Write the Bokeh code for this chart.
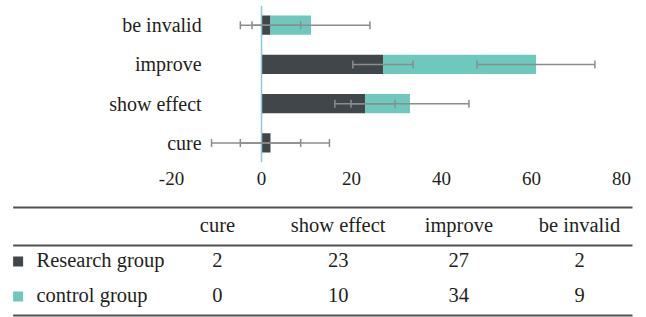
from bokeh.plotting import figure
from bokeh.models import ColumnDataSource, Whisker, Span, Range1d, FactorRange, TeeHead
from bokeh.layouts import column
from bokeh.embed import file_html
from bokeh.resources import INLINE
import numpy as np

# ---- data ----
categories = ["cure", "show effect", "improve", "be invalid"]
research = [2, 23, 27, 2]
control = [0, 10, 34, 9]
research_err = [6.7, 6.7, 6.7, 6.7]
control_err = [13.1, 13.1, 13.1, 13.1]
series_names = ["Research group", "control group"]
x_ticks = [-20, 0, 20, 40, 60, 80]
x_tick_labels = ["-20", "0", "20", "40", "60", "80"]

# ---- styles ----
DARK = "#41464b"
TEAL = "#6ec8bd"
GRAY = "#8c8c8c"
TEXT = "#231f20"
RULE = "#505050"
FONT = "Liberation Serif"

r_end = np.array(research, float)
c_end = r_end + np.array(control, float)
src = ColumnDataSource(dict(
    cat=categories, research=research, control=control,
    r_lo=r_end - np.array(research_err), r_hi=r_end + np.array(research_err),
    c_lo=c_end - np.array(control_err), c_hi=c_end + np.array(control_err),
))

W = 646
p = figure(y_range=FactorRange(*categories, range_padding=0), x_range=Range1d(-58.0, 85.56),
           frame_width=W, frame_height=157, min_border_left=0, min_border_right=0,
           min_border_top=5, min_border_bottom=36, y_axis_location=None,
           output_backend="svg", toolbar_location=None)
p.hbar_stack(["research", "control"], y="cat", height=0.485, color=[DARK, TEAL],
             line_color=None, source=src)

p.add_layout(Span(location=0, dimension="height", line_color="#8ec9d9", line_width=1.5))

for lo, hi in (("r_lo", "r_hi"), ("c_lo", "c_hi")):
    w = Whisker(source=src, base="cat", lower=lo, upper=hi, dimension="width",
                line_color=GRAY, line_width=1.5, level="overlay")
    w.upper_head = TeeHead(size=8, line_color=GRAY, line_width=1.5)
    w.lower_head = TeeHead(size=8, line_color=GRAY, line_width=1.5)
    p.add_layout(w)

# category labels, right aligned just left of the zero line
p.text(x=[-13.3] * len(categories), y=categories, text=categories, text_align="right",
       text_baseline="middle", text_font=FONT, text_font_size="20px", text_color=TEXT)

p.xaxis.ticker = x_ticks
p.xaxis.major_label_overrides = {t: s for t, s in zip(x_ticks, x_tick_labels)}
p.xaxis.axis_line_color = None
p.xaxis.major_tick_line_color = None
p.xaxis.minor_tick_line_color = None
p.xaxis.major_tick_out = 0
p.xaxis.major_tick_in = 0
p.xaxis.major_label_standoff = 9
p.xaxis.major_label_text_font = FONT
p.xaxis.major_label_text_font_size = "19px"
p.xaxis.major_label_text_color = TEXT

p.xgrid.visible = False
p.ygrid.visible = False
p.outline_line_color = None

# ---- table below ----
t = figure(width=W, height=119, x_range=Range1d(-1.798, 3.555), y_range=Range1d(2.629, -0.771),
           min_border=0, x_axis_type=None, y_axis_type=None,
           output_backend="svg", toolbar_location=None)
t.xgrid.visible = False
t.ygrid.visible = False
t.outline_line_color = None

TFS = "20.5px"
col_idx = list(range(len(categories)))
t.segment(x0=-1.693, x1=3.439, y0=[-0.514, 0.571, 2.571], y1=[-0.514, 0.571, 2.571],
          line_color=RULE, line_width=2)
t.text(x=col_idx, y=[0] * 4, text=categories, text_align="center", text_baseline="middle",
       text_font=FONT, text_font_size=TFS, text_color=TEXT)
t.text(x=col_idx, y=[1] * 4, text=[str(v) for v in research], text_align="center",
       text_baseline="middle", text_font=FONT, text_font_size=TFS, text_color=TEXT)
t.text(x=col_idx, y=[2] * 4, text=[str(v) for v in control], text_align="center",
       text_baseline="middle", text_font=FONT, text_font_size=TFS, text_color=TEXT)
t.text(x=[-1.5, -1.5], y=[1, 2], text=series_names, text_align="left", text_baseline="middle",
       text_font=FONT, text_font_size=TFS, text_color=TEXT)
t.rect(x=[-1.652, -1.652], y=[1.03, 2.03], width=10, height=10, width_units="screen",
       height_units="screen", color=[DARK, TEAL], line_color=None)

layout = column(p, t, spacing=0)
open("out.html", "w").write(file_html(layout, INLINE))
